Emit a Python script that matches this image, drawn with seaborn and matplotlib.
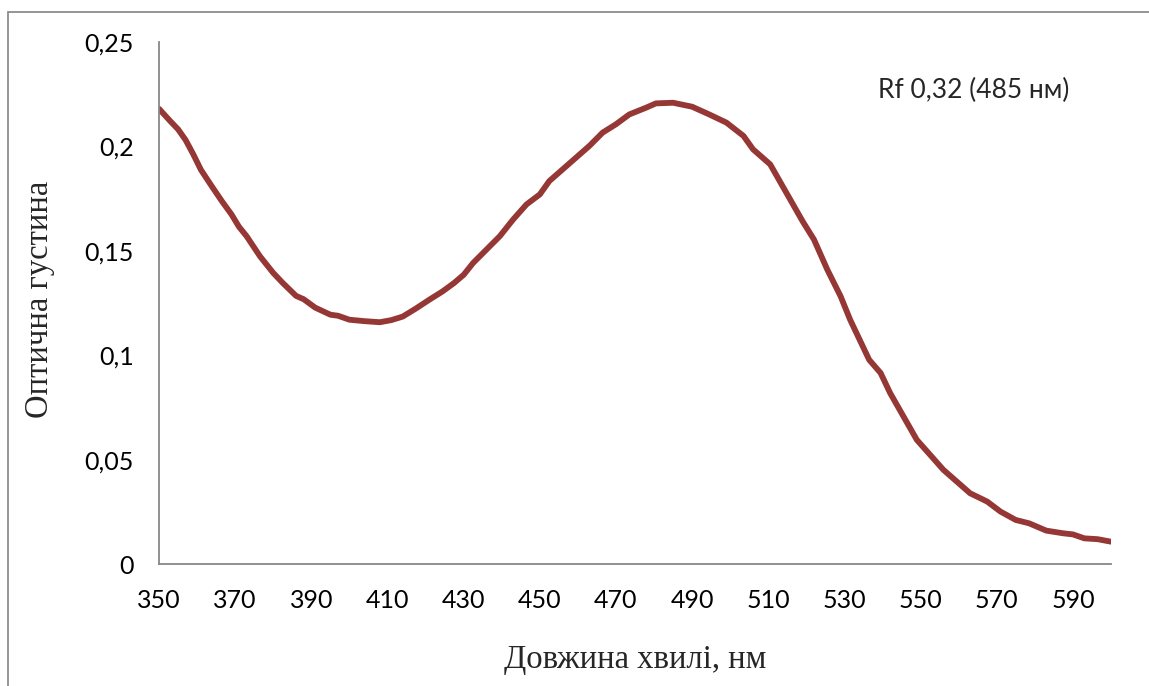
import numpy as np
import pandas as pd
import seaborn as sns
import matplotlib.pyplot as plt
from matplotlib.patches import Rectangle

# spectrum
wavelength = [350, 353, 355, 357, 359, 361, 364, 366.5, 369, 371, 373, 376.5, 380, 382.5,
              386, 388, 391, 395, 397, 400, 404, 408, 411, 414, 417.5, 421, 424.5, 427.5,
              430, 432.5, 436, 439.5, 443, 446.5, 450, 452.5, 456, 459.5, 463, 466.5, 470,
              473.5, 478, 480.5, 485, 490, 494.5, 499, 503.5, 506, 510.5, 513, 516, 519,
              522, 525.5, 529, 531.5, 534, 536.5, 539.5, 542, 545.5, 549, 552.5, 556,
              559.5, 563, 567.5, 571, 575, 578.5, 583, 587.5, 590, 593, 596.5, 600]
density = [0.2180, 0.2120, 0.2082, 0.2030, 0.1962, 0.1888, 0.1805, 0.1738, 0.1675, 0.1615,
           0.1570, 0.1474, 0.1394, 0.1346, 0.1284, 0.1268, 0.1228, 0.1194, 0.1189, 0.1170,
           0.1163, 0.1158, 0.1168, 0.1185, 0.1224, 0.1266, 0.1306, 0.1346, 0.1385, 0.1442,
           0.1506, 0.1570, 0.1650, 0.1722, 0.1770, 0.1834, 0.1890, 0.1946, 0.2002, 0.2066,
           0.2106, 0.2153, 0.2186, 0.2206, 0.2209, 0.2190, 0.2153, 0.2114, 0.2050, 0.1986,
           0.1914, 0.1834, 0.1738, 0.1642, 0.1554, 0.1410, 0.1282, 0.1170, 0.1074, 0.0978,
           0.0915, 0.0819, 0.0707, 0.0595, 0.0523, 0.0451, 0.0395, 0.0339, 0.0299, 0.0251,
           0.0211, 0.0195, 0.0160, 0.0147, 0.0142, 0.0123, 0.0119, 0.0107]

x_ticks = list(range(350, 600, 20))
y_ticks = [0, 0.05, 0.1, 0.15, 0.2, 0.25]
y_tick_labels = ["0", "0,05", "0,1", "0,15", "0,2", "0,25"]

sns.set_style("white")
plt.rcParams['font.family'] = ['Lato', 'DejaVu Sans']

df = pd.DataFrame({"wl": wavelength, "od": density})

fig = plt.figure(figsize=(11.49, 6.86), dpi=100)
ax = fig.add_axes([0.1384, 0.1778, 0.8285, 0.7610])

sns.lineplot(data=df, x="wl", y="od", ax=ax, color="#953735", linewidth=4.2)

ax.set_xlim(350, 600)
ax.set_ylim(0, 0.25)
ax.set_xticks(x_ticks)
ax.set_yticks(y_ticks)
ax.set_yticklabels(y_tick_labels)
ax.tick_params(axis="both", length=0, labelsize=18, pad=18, colors="black")

for side in ["top", "right"]:
    ax.spines[side].set_visible(False)
for side in ["left", "bottom"]:
    ax.spines[side].set_color("#888888")
    ax.spines[side].set_linewidth(1.3)

ax.set_xlabel("Довжина хвилі, нм", family="Liberation Serif", fontsize=23.5, va="center")
ax.set_ylabel("Оптична густина", family="Liberation Serif", fontsize=23.5, va="center")
ax.xaxis.set_label_coords(0.5, -0.184)
ax.yaxis.set_label_coords(-0.125, 0.506)

fig.text(878 / 1149, 1 - 90 / 686, "Rf 0,32 (485 нм)", fontsize=19, va="center", ha="left")

# outer chart frame (partly cut off at right and bottom)
fig.patches.append(Rectangle((8 / 1149, -0.1), 1.2, 1.1 - 12 / 686,
                             transform=fig.transFigure, fill=False,
                             edgecolor="#8c8c8c", linewidth=1.3))

fig.savefig("out.png", dpi=100)
